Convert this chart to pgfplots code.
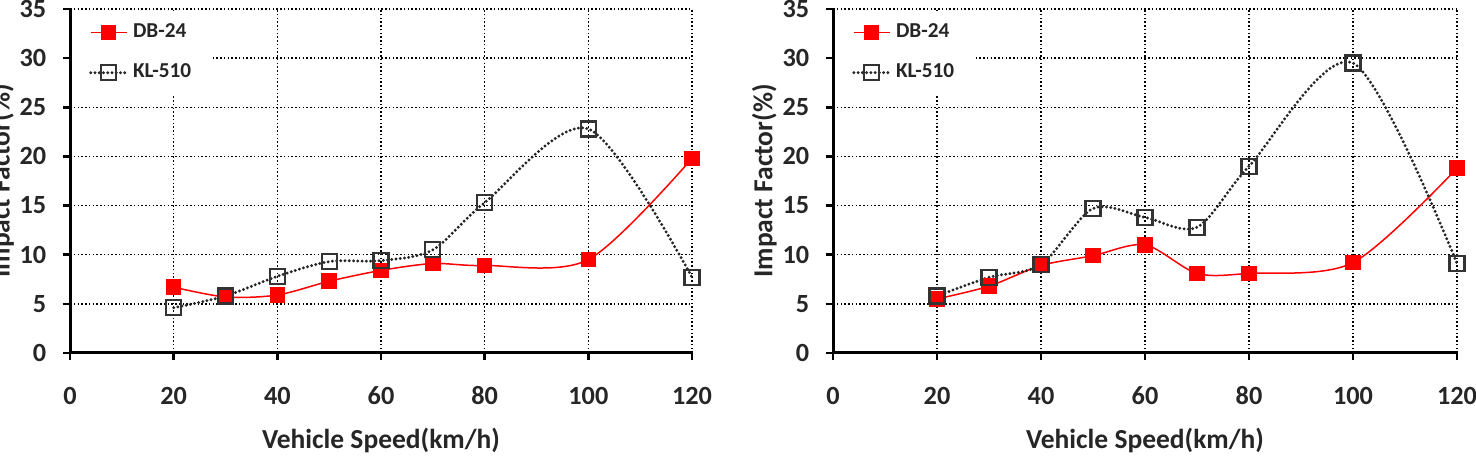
\documentclass[border=0pt]{standalone}
\usepackage{fontspec}
\setmainfont{Carlito}
\usepackage{pgfplots}
\pgfplotsset{compat=1.18}

% Left chart
\pgfplotstableread{
x y
20 6.7
30 5.7
40 5.9
50 7.3
60 8.4
70 9.1
80 8.9
100 9.5
120 19.8
}\dbA
\pgfplotstableread{
x y
20 4.6
30 5.8
40 7.8
50 9.3
60 9.4
70 10.5
80 15.3
100 22.8
120 7.7
}\klA
% Right chart
\pgfplotstableread{
x y
20 5.5
30 6.8
40 8.9
50 9.9
60 11.0
70 8.1
80 8.1
100 9.2
120 18.8
}\dbB
\pgfplotstableread{
x y
20 5.8
30 7.7
40 9.0
50 14.7
60 13.8
70 12.8
80 19.0
100 29.5
120 9.1
}\klB

\pgfplotsset{
  myax/.style={
    scale only axis, height=137.6pt,
    xmin=0, xmax=120, ymin=0, ymax=35,
    xtick={0,20,...,120}, ytick={0,5,...,35},
    axis lines=left, axis line style={line width=1.2pt, -, black},
    tick align=outside, major tick length=3pt,
    tick style={line width=1pt, black},
    grid=major,
    major grid style={black, line width=0.6pt, dash pattern=on 0.6pt off 0.9pt},
    /pgf/number format/assume math mode=true,
    ticklabel style={font=\fontsize{10.5}{12}\selectfont\bfseries, text=black!85},
    xticklabel style={yshift=-7pt},
    yticklabel style={xshift=-3pt},
    xlabel={Vehicle Speed(km/h)}, ylabel={Impact Factor(\%)},
    label style={font=\fontsize{11}{13}\selectfont\bfseries, text=black!85},
    xlabel style={at={(axis description cs:0.5,-0.254)}, anchor=center},
    ylabel style={at={(axis description cs:-0.11,0.5)}, anchor=center},
    legend style={at={(0.006,0.995)}, anchor=north west, draw=none, fill=white,
      font=\fontsize{8.5}{10}\selectfont\bfseries, row sep=5pt,
      inner xsep=6pt, inner ysep=3pt, text=black!85},
    legend cell align=left,
    legend image code/.code={\draw[mark repeat=2,mark phase=2] plot coordinates {(0cm,0cm) (0.25cm,0cm) (0.5cm,0cm)};},
  },
  dbst/.style={red, line width=0.6pt, smooth, mark=square*, mark size=2.8pt,
    mark options={solid, fill=red, draw=red}},
  klst/.style={black!85, line width=1.3pt, smooth, line cap=round,
    dash pattern=on 0pt off 1.7pt, mark=square, mark size=3pt,
    mark options={solid, line width=0.9pt, fill=white, draw=black!80}},
}

\begin{document}
\begin{tikzpicture}
\useasboundingbox (0,0) rectangle (590.4pt,189.2pt);
\clip (0,0) rectangle (590.4pt,189.2pt);
\begin{axis}[myax, width=248.8pt, at={(28pt,48pt)}, anchor=south west]
\addplot[dbst] table {\dbA};
\addlegendentry{DB-24}
\addplot[klst] table {\klA};
\addlegendentry{KL-510}
\end{axis}
\begin{axis}[myax, width=249.6pt, at={(333.2pt,48pt)}, anchor=south west]
\addplot[dbst] table {\dbB};
\addlegendentry{DB-24}
\addplot[klst] table {\klB};
\addlegendentry{KL-510}
\end{axis}
\end{tikzpicture}
\end{document}
